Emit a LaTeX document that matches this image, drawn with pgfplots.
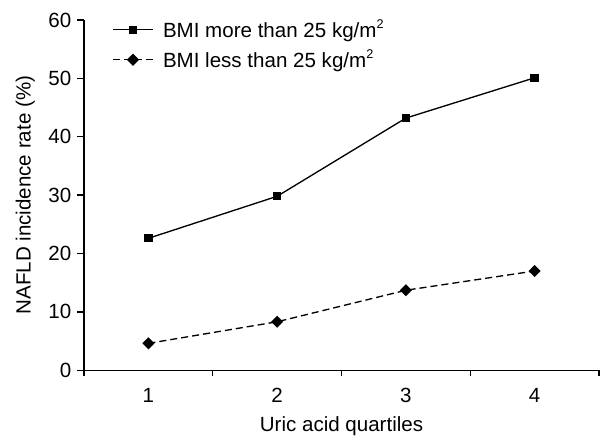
\documentclass[border=0pt]{standalone}
\usepackage{pgfplots}
\pgfplotsset{compat=1.18}
\usepackage{fontspec}
\setmainfont{Liberation Sans}
\newcommand{\sqm}{m\raisebox{0.85ex}{\fontsize{9.5}{10}\selectfont 2}}

\begin{document}
\begin{tikzpicture}
\begin{axis}[
    name=ax,
    scale only axis,
    width=386pt,
    height=262.5pt,
    xmin=0.5, xmax=4.5,
    ymin=0, ymax=60,
    axis x line=bottom,
    axis y line=left,
    axis line style={-, line width=1pt},
    xtick={1,2,3,4},
    major x tick style={draw=none},
    minor xtick={0.5,1.5,2.5,3.5,4.5},
    minor tick length=4.5pt,
    ytick={0,10,...,60},
    major tick length=5pt,
    tick align=outside,
    tick style={line width=1pt, black},
    ticklabel style={font=\fontsize{15.4}{18}\selectfont},
    /pgf/number format/assume math mode=true,
    xticklabel style={yshift=-5pt},
    yticklabel style={xshift=-1pt},
    xlabel={Uric acid quartiles},
    ylabel={NAFLD incidence rate (\%)},
    label style={font=\fontsize{15.4}{18}\selectfont},
    xlabel style={at={(axis description cs:0.5,-0.16)}, anchor=center},
    ylabel style={at={(axis description cs:-0.114,0.5)}, anchor=center, rotate=0},
    legend style={draw=none, fill=none, at={(21pt,264pt)}, anchor=north west,
        font=\fontsize{15.4}{18}\selectfont, row sep=5.5pt, inner sep=0pt,
        nodes={inner sep=1pt},
        /tikz/every odd column/.append style={column sep=6pt}},
    legend cell align=left,
    legend image code/.code={
        \draw[mark repeat=2, mark phase=2] plot coordinates {(0pt,0pt) (15pt,0pt) (30pt,0pt)};
    },
]
\addplot[black, line width=1pt, mark=square*, mark size=2.6pt,
    mark options={solid}]
coordinates {
    (1,22.6)
    (2,29.8)
    (3,43.2)
    (4,50.1)
};
\addlegendentry{BMI more than 25 kg/\sqm}
\addplot[black, line width=1pt, dash pattern=on 5.3pt off 3pt,
    mark=square*, mark size=2.7pt, mark options={solid, rotate=45}]
coordinates {
    (1,4.6)
    (2,8.3)
    (3,13.7)
    (4,17.0)
};
\addlegendentry{BMI less than 25 kg/\sqm}
\end{axis}
\pgfresetboundingbox
\path ([xshift=-63pt,yshift=-52.5pt]ax.south west) rectangle ([xshift=12.75pt,yshift=15pt]ax.north east);
\end{tikzpicture}
\end{document}
